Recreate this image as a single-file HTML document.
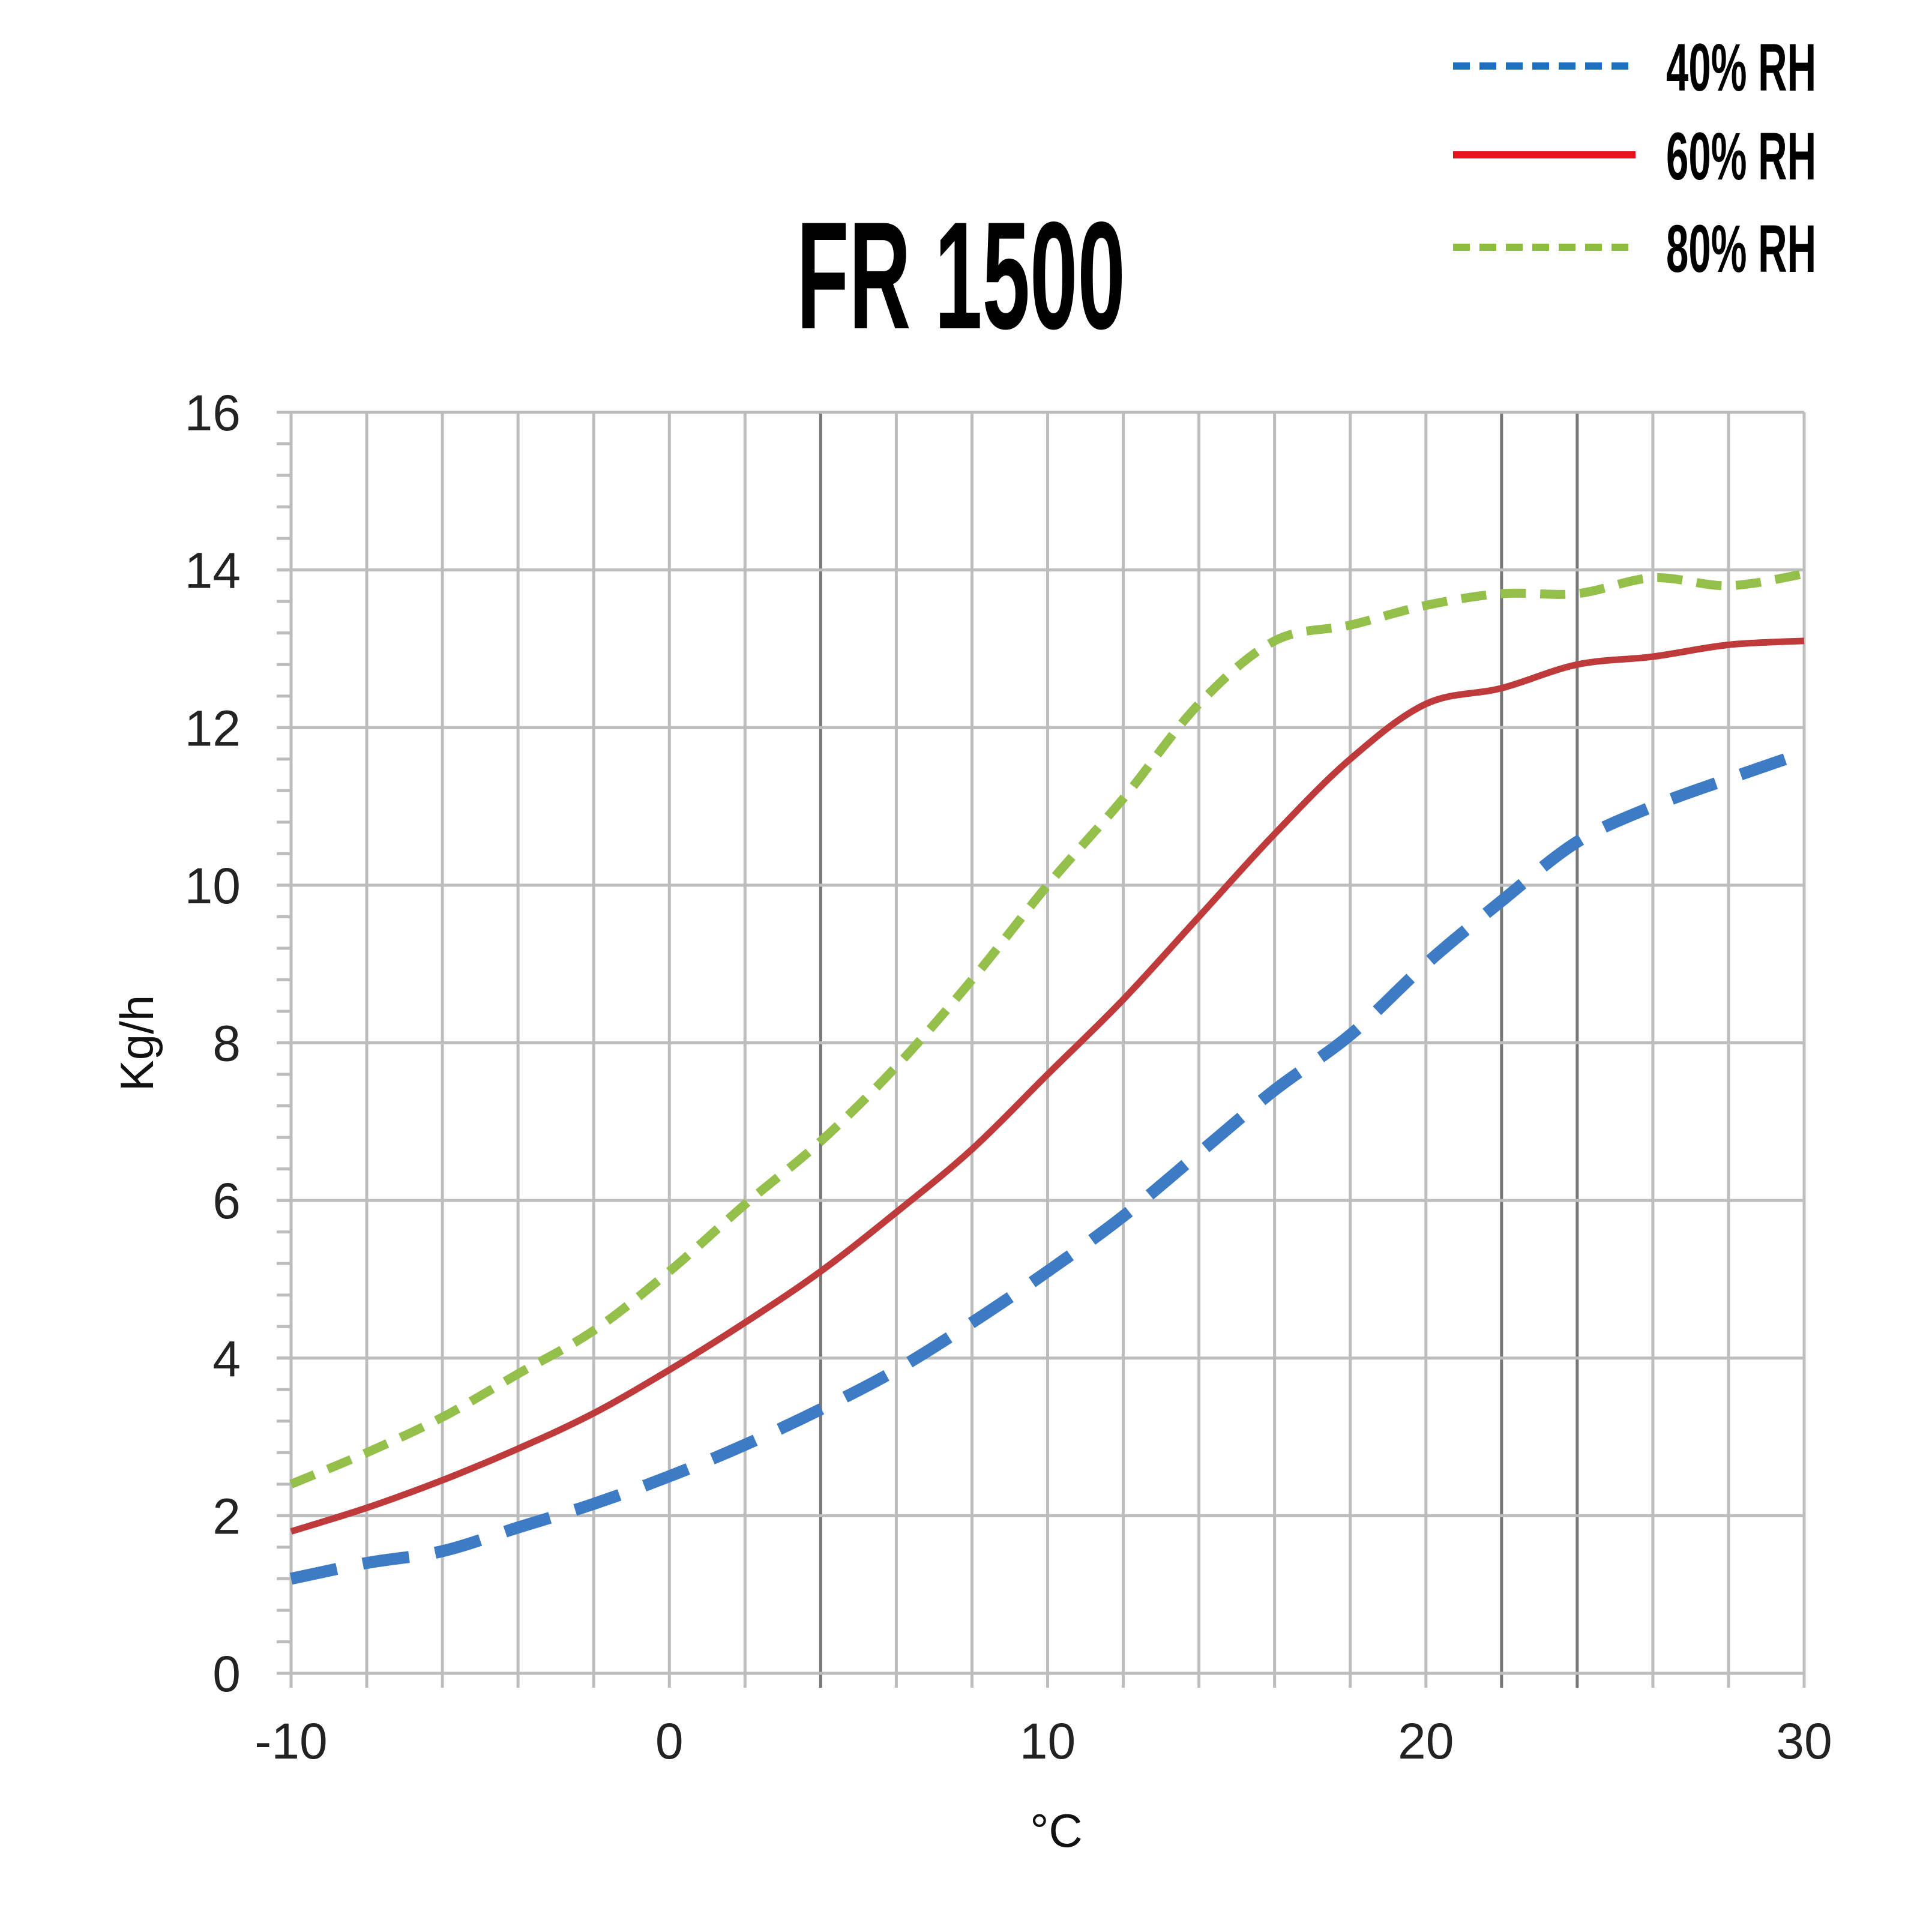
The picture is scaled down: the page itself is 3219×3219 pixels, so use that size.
<!DOCTYPE html>
<html><head><meta charset="utf-8"><style>
html,body{margin:0;padding:0;background:#fff;}
svg{display:block;}
</style></head><body>
<svg id="chart" width="3219" height="3219" viewBox="0 0 3219 3219" xmlns="http://www.w3.org/2000/svg">
<rect x="0" y="0" width="3219" height="3219" fill="#fff"/>
<g id="grid"></g>
<g id="labels"></g>
<g id="series"></g>
<text x="0" y="0" transform="translate(1601,547) scale(0.56,1)" text-anchor="middle" font-family="Liberation Sans, sans-serif" font-weight="bold" font-size="255" fill="#000">FR 1500</text>
<text transform="translate(255,1738) rotate(-90)" text-anchor="middle" font-family="Liberation Sans, sans-serif" font-size="78" fill="#111">Kg/h</text>
<text x="1760" y="3077" text-anchor="middle" font-family="Liberation Sans, sans-serif" font-size="78" fill="#111">°C</text>
<g>
<line x1="2421" y1="110" x2="2725" y2="110" stroke="#1f6fbf" stroke-width="12" stroke-dasharray="28,16"/>
<line x1="2421" y1="258" x2="2725" y2="258" stroke="#e8141c" stroke-width="12"/>
<line x1="2421" y1="412" x2="2725" y2="412" stroke="#8cbd3c" stroke-width="12" stroke-dasharray="28,16"/>
<text transform="translate(2776,151) scale(0.6,1)" font-family="Liberation Sans, sans-serif" font-weight="bold" font-size="112" fill="#000">40% RH</text>
<text transform="translate(2776,299) scale(0.6,1)" font-family="Liberation Sans, sans-serif" font-weight="bold" font-size="112" fill="#000">60% RH</text>
<text transform="translate(2776,453) scale(0.6,1)" font-family="Liberation Sans, sans-serif" font-weight="bold" font-size="112" fill="#000">80% RH</text>
</g>
</svg>
<script>
const xCats = [-10,-8,-6,-4,-2,0,2,4,6,8,10,12,14,16,18,20,22,24,26,28,30];
const xTickLabels = [-10,0,10,20,30];
const yTickLabels = [0,2,4,6,8,10,12,14,16];
const x40 = [-10,-8,-6,-4,-2,0,2,4,6,8,10,12,14,16,18,20,22,24,26,28,29.5];
const rh40 = [1.2,1.4,1.55,1.85,2.15,2.5,2.9,3.35,3.85,4.45,5.1,5.8,6.6,7.4,8.1,9.0,9.8,10.55,11.0,11.35,11.6];
const rh60 = [1.8,2.1,2.45,2.85,3.3,3.85,4.45,5.1,5.85,6.65,7.6,8.55,9.6,10.65,11.6,12.3,12.5,12.8,12.9,13.05,13.1];
const rh80 = [2.4,2.8,3.25,3.8,4.35,5.1,5.95,6.75,7.7,8.8,10.0,11.1,12.3,13.1,13.3,13.55,13.7,13.7,13.9,13.8,13.95];
const darkX = [4,22,24];

const X0=485,X1=3006,Y0=2788,Y1=687;
const xs=v=>X0+(v+10)/40*(X1-X0);
const ys=v=>Y0-v/16*(Y0-Y1);
const NS='http://www.w3.org/2000/svg';
function mk(tag,attrs,parent){const e=document.createElementNS(NS,tag);for(const k in attrs)e.setAttribute(k,attrs[k]);parent.appendChild(e);return e;}
const grid=document.getElementById('grid'),labels=document.getElementById('labels'),series=document.getElementById('series');
xCats.forEach(v=>{
  const dark=darkX.includes(v);
  const l=mk('line',{x1:xs(v),y1:Y1,x2:xs(v),y2:Y0+24,stroke:dark?'#777':'#bdbdbd','stroke-width':dark?5:5},grid);
  
  
});
yTickLabels.forEach(v=>{
  const l=mk('line',{x1:X0-24,y1:ys(v),x2:X1,y2:ys(v),stroke:'#bdbdbd','stroke-width':5},grid);
  
  
  const t=mk('text',{x:401,y:ys(v)+30,'text-anchor':'end','font-family':'Liberation Sans, sans-serif','font-size':84,fill:'#222'},labels);
  t.textContent=v;
  
  
});
for(let v=0;v<16;v+=0.4){
  const l=mk('line',{x1:X0-24,y1:ys(v),x2:X0,y2:ys(v),stroke:'#bdbdbd','stroke-width':5},grid);
  
  
}
xTickLabels.forEach(v=>{
  const t=mk('text',{x:xs(v),y:2930,'text-anchor':'middle','font-family':'Liberation Sans, sans-serif','font-size':84,fill:'#222'},labels);
  t.textContent=v;
  
  
});
function pathFor(xv,yv){
  const p=xv.map((x,i)=>[xs(x),ys(yv[i])]);
  let d='M'+p[0][0]+','+p[0][1];
  for(let i=0;i<p.length-1;i++){
    const p0=p[i-1]||p[i],p1=p[i],p2=p[i+1],p3=p[i+2]||p2;
    const c1=[p1[0]+(p2[0]-p0[0])/6,p1[1]+(p2[1]-p0[1])/6];
    const c2=[p2[0]-(p3[0]-p1[0])/6,p2[1]-(p3[1]-p1[1])/6];
    d+=' C'+c1+' '+c2+' '+p2;
  }
  return d;
}
const s40=mk('path',{d:pathFor(x40,rh40),fill:'none',stroke:'#3d7bc4','stroke-width':20,'stroke-dasharray':'78,44'},series);


const s60=mk('path',{d:pathFor(xCats,rh60),fill:'none',stroke:'#bf3b3b','stroke-width':11},series);


const s80=mk('path',{d:pathFor(xCats,rh80),fill:'none',stroke:'#93bf4a','stroke-width':15,'stroke-dasharray':'42,24'},series);


</script>
</body></html>
